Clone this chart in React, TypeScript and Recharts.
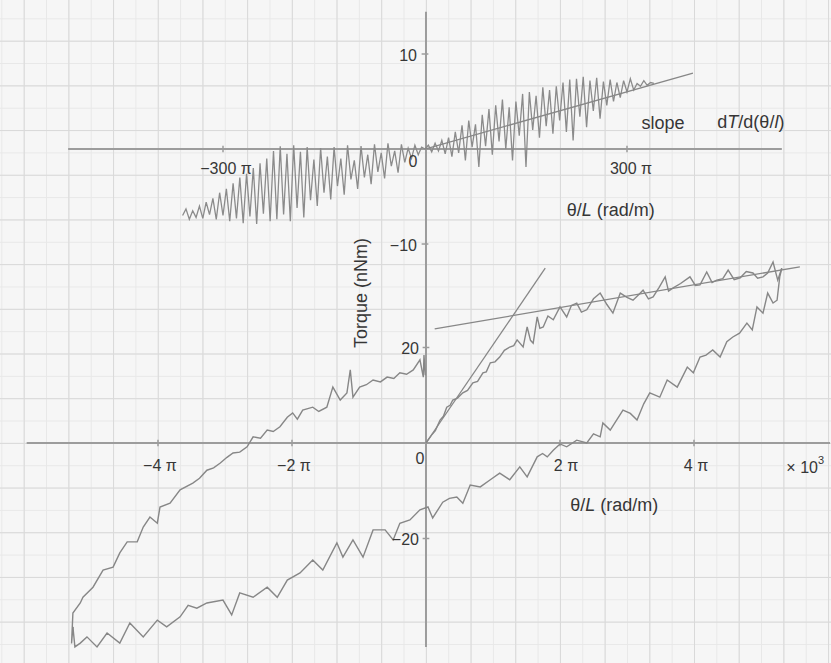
import React from "react";
import { LineChart, Line, XAxis, YAxis, ReferenceLine, ReferenceDot } from "recharts";

const W = 831;
const H = 663;
const FONT = "'Liberation Sans', Arial, sans-serif";
const CURVE = "#878787";
const AXIS = "#9c9c9c";
const INK = "#363636";
const TICK_SIZE = 16;
const TITLE_SIZE = 18;

// lower loop: θ/L in units of π×10³ rad/m, torque in nNm
const loadingBranch: [number, number][] = [
  [0.0, 0.0], [0.08, 1.6], [0.14, 2.6], [0.21, 4.8], [0.26, 5.6], [0.31, 7.5], [0.36, 7.9],
  [0.4, 9.0], [0.47, 9.4], [0.55, 10.5], [0.62, 11.0], [0.7, 12.6], [0.77, 12.9], [0.85, 14.7],
  [0.9, 14.9], [0.96, 16.8], [1.03, 17.0], [1.1, 18.0], [1.17, 19.4], [1.25, 20.1], [1.31, 20.4],
  [1.36, 21.6], [1.45, 20.1], [1.51, 24.3], [1.56, 21.5], [1.6, 20.9], [1.66, 26.4], [1.7, 24.0],
  [1.75, 24.3], [1.82, 26.6], [1.9, 25.8], [2.0, 28.5], [2.1, 26.4], [2.17, 28.8], [2.25, 29.3],
  [2.32, 27.4], [2.4, 27.9], [2.5, 30.2], [2.6, 31.4], [2.7, 29.0], [2.79, 27.2], [2.9, 31.4],
  [3.0, 30.5], [3.09, 29.9], [3.17, 31.0], [3.24, 32.0], [3.32, 30.2], [3.39, 30.6], [3.48, 32.6],
  [3.57, 34.8], [3.62, 31.8], [3.69, 32.5], [3.8, 33.4], [3.94, 34.8], [4.02, 33.0], [4.09, 33.1],
  [4.19, 35.8], [4.27, 33.6], [4.34, 34.1], [4.43, 34.4], [4.51, 36.2], [4.6, 34.2], [4.69, 34.6],
  [4.78, 35.9], [4.88, 35.6], [4.95, 34.5], [5.03, 34.8], [5.1, 35.6], [5.18, 37.9], [5.25, 34.1],
  [5.31, 36.6],
];

const unloadingBranch: [number, number][] = [
  [5.31, 36.6], [5.28, 34.8], [5.24, 29.9], [5.18, 29.3], [5.1, 31.4], [5.03, 27.2], [4.94, 28.5],
  [4.87, 23.7], [4.79, 25.1], [4.68, 23.0], [4.58, 22.2], [4.49, 21.2], [4.39, 18.0], [4.28, 19.5],
  [4.18, 18.4], [4.09, 18.0], [3.99, 14.7], [3.9, 15.9], [3.75, 11.7], [3.6, 13.2], [3.49, 9.6],
  [3.34, 10.5], [3.25, 8.2], [3.15, 4.8], [3.05, 6.2], [2.94, 6.9], [2.75, 2.7], [2.64, 4.2],
  [2.6, 1.3], [2.5, 1.9], [2.4, 0.0], [2.25, 0.6], [2.1, -0.8], [2.0, -0.2], [1.9, -1.5],
  [1.81, -2.9], [1.74, -2.2], [1.66, -2.9], [1.51, -7.1], [1.4, -5.0], [1.25, -7.7], [1.1, -6.3],
  [0.96, -7.7], [0.81, -9.2], [0.66, -8.8], [0.55, -12.6], [0.46, -11.3], [0.35, -11.6],
  [0.25, -12.4], [0.1, -15.7], [0.03, -13.4], [-0.09, -14.0], [-0.24, -16.1], [-0.39, -16.8],
  [-0.49, -20.3], [-0.61, -18.2], [-0.79, -18.2], [-0.94, -23.9], [-1.09, -20.3], [-1.24, -23.9],
  [-1.33, -20.9], [-1.54, -26.6], [-1.69, -24.5], [-1.88, -27.2], [-2.07, -28.7], [-2.22, -32.3],
  [-2.37, -30.2], [-2.58, -32.3], [-2.78, -31.4], [-2.9, -36.0], [-3.03, -32.9], [-3.27, -33.5],
  [-3.42, -34.6], [-3.55, -34.0], [-3.67, -36.4], [-3.87, -38.5], [-4.01, -37.1], [-4.22, -40.6],
  [-4.42, -37.7], [-4.57, -41.9], [-4.76, -39.8], [-4.91, -42.7], [-5.06, -40.6], [-5.16, -41.9],
  [-5.24, -42.7], [-5.27, -38.5],
];

const reloadingBranch: [number, number][] = [
  [-5.27, -38.5], [-5.29, -42.0], [-5.27, -35.6], [-5.16, -33.5], [-5.12, -32.3], [-4.97, -30.2],
  [-4.82, -26.6], [-4.67, -26.0], [-4.57, -23.0], [-4.46, -20.7], [-4.31, -20.7], [-4.22, -17.6],
  [-4.12, -15.5], [-4.01, -16.8], [-3.97, -13.4], [-3.82, -12.6], [-3.67, -9.8], [-3.48, -8.4],
  [-3.38, -7.4], [-3.27, -5.7], [-3.17, -5.2], [-3.07, -4.2], [-2.97, -3.0], [-2.88, -2.1],
  [-2.78, -1.9], [-2.67, -0.8], [-2.58, 1.3], [-2.47, 1.0], [-2.37, 2.7], [-2.28, 2.4],
  [-2.18, 3.4], [-2.07, 5.4], [-1.99, 6.3], [-1.92, 5.0], [-1.84, 6.9], [-1.69, 7.5], [-1.6, 6.6],
  [-1.48, 7.5], [-1.39, 11.7], [-1.28, 9.0], [-1.18, 10.5], [-1.13, 15.3], [-1.09, 9.6],
  [-0.99, 11.7], [-0.89, 12.2], [-0.79, 13.2], [-0.68, 12.8], [-0.58, 13.8], [-0.48, 13.5],
  [-0.39, 14.7], [-0.29, 14.4], [-0.19, 15.3], [-0.09, 17.4], [-0.04, 13.8], [-0.03, 18.4],
  [-0.01, 14.2],
];

const initialSlope: [number, number][] = [[0, 0], [1.78, 36.6]];
const saturationSlope: [number, number][] = [[0.13, 23.9], [5.58, 36.9]];
const lowerXTicks = [-4, -2, 2, 4];
const lowerYTicks = [20, -20];

// upper sweep: θ/L in units of π rad/m, torque in nNm
const smallSweep: [number, number][] = [
  [-360, -7.0], [-355, -6.3], [-350, -7.4], [-345, -6.5], [-340, -7.2], [-335, -6.0], [-330, -7.3],
  [-325, -5.6], [-320, -6.9], [-315, -5.2], [-310, -7.4], [-305, -4.6], [-300, -7.0], [-295, -4.2],
  [-290, -7.6], [-285, -3.6], [-280, -7.3], [-275, -3.0], [-270, -7.8], [-265, -2.6], [-260, -7.1],
  [-255, -2.0], [-250, -7.9], [-245, -1.5], [-240, -6.8], [-235, -1.0], [-230, -7.6], [-225, -0.2],
  [-220, -7.4], [-215, 0.3], [-210, -6.9], [-205, -0.5], [-200, -7.6], [-195, 0.4], [-190, -6.2],
  [-185, -0.3], [-180, -7.2], [-175, 0.2], [-170, -5.4], [-165, -1.1], [-160, -6.0], [-155, 0.1],
  [-150, -4.6], [-145, -0.8], [-140, -5.3], [-135, 0.2], [-130, -3.9], [-125, -1.0], [-120, -4.8],
  [-115, 0.4], [-110, -3.2], [-105, -1.2], [-100, -4.2], [-95, 0.3], [-90, -3.0], [-85, -0.6],
  [-80, -3.7], [-75, 0.5], [-70, -2.4], [-65, -0.4], [-60, -3.1], [-55, 0.6], [-50, -1.8],
  [-45, -0.2], [-40, -2.5], [-35, 0.5], [-30, -1.4], [-25, 0.1], [-20, -1.0], [-15, 0.4],
  [-10, -0.6], [-5, 0.2], [0, 0.0], [5, 0.4], [10, -0.3], [15, 0.6], [20, -0.2], [25, 0.9],
  [30, -0.5], [35, 1.2], [40, -0.8], [45, 1.8], [50, -0.4], [55, 2.5], [60, -1.2], [65, 3.0],
  [70, 0.2], [75, 2.6], [80, -1.9], [85, 3.6], [90, 0.3], [95, 4.2], [100, -0.6], [105, 4.6],
  [110, 0.8], [115, 5.2], [120, 0.0], [125, 4.4], [130, -1.2], [135, 5.0], [140, 1.4], [145, 5.8],
  [150, -1.9], [155, 6.0], [160, 2.0], [165, 5.6], [170, 1.2], [175, 6.5], [180, 2.4], [185, 6.2],
  [190, 1.6], [195, 6.6], [200, 3.0], [205, 7.0], [210, 1.8], [215, 7.3], [220, 0.9], [225, 7.4],
  [230, 3.4], [235, 7.6], [240, 2.3], [245, 7.2], [250, 4.0], [255, 7.5], [260, 3.2], [265, 7.1],
  [270, 4.6], [275, 7.3], [280, 5.0], [285, 7.0], [290, 5.4], [295, 7.2], [300, 6.0], [305, 7.4],
  [310, 6.2], [315, 6.9], [320, 6.6], [325, 7.2], [330, 6.7], [335, 7.0], [340, 6.9],
];
const smallSweepFit: [number, number][] = [[0, 0], [398, 8.0]];
const upperXTicks = [-300, 300];
const upperYTicks = [10, -10];

const pts = (a: [number, number][]) => a.map(([x, y]) => ({ x, y }));
const piLabel = (v: number) => `${v < 0 ? "−" : ""}${Math.abs(v)} π`;
const numLabel = (v: number) => `${v < 0 ? "−" : ""}${Math.abs(v)}`;

function textAt(
  content: React.ReactNode,
  dx: number,
  dy: number,
  size: number,
  anchor: "start" | "middle" | "end" = "middle",
  rotate = false
) {
  return (p: any) => {
    const x = p.cx + dx;
    const y = p.cy + dy;
    return (
      <text
        x={x}
        y={y}
        textAnchor={anchor}
        dominantBaseline="central"
        fontSize={size}
        fill={INK}
        fontFamily={FONT}
        transform={rotate ? `rotate(-90 ${x} ${y})` : undefined}
      >
        {content}
      </text>
    );
  };
}

const thetaL = (
  <>
    θ/<tspan fontStyle="italic">L</tspan> (rad/m)
  </>
);

const curveProps = {
  dataKey: "y",
  dot: false,
  activeDot: false,
  isAnimationActive: false,
  legendType: "none" as const,
};

function UpperPlot() {
  return (
    <LineChart width={W} height={H} margin={{ top: 0, right: 0, bottom: 0, left: 0 }}>
      <XAxis type="number" dataKey="x" domain={[-631.2, 603]} hide allowDataOverflow />
      <YAxis type="number" domain={[-54.1, 15.684]} hide allowDataOverflow />
      <ReferenceLine segment={[{ x: -530, y: 0 }, { x: 530, y: 0 }]} stroke={AXIS} strokeWidth={2} />
      {upperXTicks.map((t) => (
        <ReferenceLine key={`ux${t}`} segment={[{ x: t, y: -0.35 }, { x: t, y: 0.35 }]} stroke={AXIS} strokeWidth={1.5} />
      ))}
      {upperYTicks.map((t) => (
        <ReferenceLine key={`uy${t}`} segment={[{ x: -5, y: t }, { x: 5, y: t }]} stroke={AXIS} strokeWidth={1.5} />
      ))}
      <Line {...curveProps} data={pts(smallSweep)} stroke="#8b8b8b" strokeWidth={1.3} />
      <Line {...curveProps} data={pts(smallSweepFit)} stroke={CURVE} strokeWidth={1.3} />
      {upperXTicks.map((t) => (
        <ReferenceDot key={`uxl${t}`} x={t} y={0} r={0} shape={textAt(piLabel(t), t < 0 ? 3 : 4, 19, TICK_SIZE)} />
      ))}
      {upperYTicks.map((t) => (
        <ReferenceDot key={`uyl${t}`} x={0} y={t} r={0} shape={textAt(numLabel(t), -8, 1, TICK_SIZE, "end")} />
      ))}
      <ReferenceDot x={0} y={0} r={0} shape={textAt("0", -12, 12, TICK_SIZE)} />
      <ReferenceDot x={276} y={-6.4} r={0} shape={textAt(thetaL, 0, 0, TITLE_SIZE)} />
      <ReferenceDot x={353.5} y={2.74} r={0} shape={textAt("slope", 0, 0, TITLE_SIZE)} />
      <ReferenceDot
        x={484}
        y={2.84}
        r={0}
        shape={textAt(
          <>
            d<tspan fontStyle="italic">T</tspan>/d(θ/<tspan fontStyle="italic">l</tspan>)
          </>,
          0,
          0,
          TITLE_SIZE
        )}
      />
    </LineChart>
  );
}

function LowerPlot() {
  return (
    <LineChart width={W} height={H} margin={{ top: 0, right: 0, bottom: 0, left: 0 }}>
      <XAxis type="number" dataKey="x" domain={[-6.358, 6.045]} hide allowDataOverflow />
      <YAxis type="number" domain={[-46.07, 92.77]} hide allowDataOverflow />
      <ReferenceLine segment={[{ x: -5.96, y: 0 }, { x: 6.03, y: 0 }]} stroke={AXIS} strokeWidth={2} />
      <ReferenceLine segment={[{ x: 0, y: -42.7 }, { x: 0, y: 90.3 }]} stroke={AXIS} strokeWidth={2} />
      {lowerXTicks.map((t) => (
        <ReferenceLine key={`lx${t}`} segment={[{ x: t, y: -0.7 }, { x: t, y: 0.7 }]} stroke={AXIS} strokeWidth={1.5} />
      ))}
      {lowerYTicks.map((t) => (
        <ReferenceLine key={`ly${t}`} segment={[{ x: -0.05, y: t }, { x: 0.05, y: t }]} stroke={AXIS} strokeWidth={1.5} />
      ))}
      <Line {...curveProps} data={pts(loadingBranch)} stroke={CURVE} strokeWidth={1.4} />
      <Line {...curveProps} data={pts(unloadingBranch)} stroke={CURVE} strokeWidth={1.4} />
      <Line {...curveProps} data={pts(reloadingBranch)} stroke={CURVE} strokeWidth={1.4} />
      <Line {...curveProps} data={pts(initialSlope)} stroke={CURVE} strokeWidth={1.3} />
      <Line {...curveProps} data={pts(saturationSlope)} stroke={CURVE} strokeWidth={1.3} />
      {lowerXTicks.map((t) => (
        <ReferenceDot key={`lxl${t}`} x={t} y={0} r={0} shape={textAt(piLabel(t), t === 2 ? 6 : 2, 22, TICK_SIZE)} />
      ))}
      {lowerYTicks.map((t) => (
        <ReferenceDot key={`lyl${t}`} x={0} y={t} r={0} shape={textAt(numLabel(t), -7, 1, TICK_SIZE, "end")} />
      ))}
      <ReferenceDot x={0} y={0} r={0} shape={textAt("0", -6, 15, TICK_SIZE)} />
      <ReferenceDot
        x={5.66}
        y={0}
        r={0}
        shape={textAt(
          <>
            × 10<tspan dy={-7} fontSize={11}>3</tspan>
          </>,
          0,
          24,
          TICK_SIZE
        )}
      />
      <ReferenceDot x={2.81} y={-13.0} r={0} shape={textAt(thetaL, 0, 0, TITLE_SIZE)} />
      <ReferenceDot x={-0.97} y={31.4} r={0} shape={textAt("Torque (nNm)", 0, 0, TITLE_SIZE, "middle", true)} />
    </LineChart>
  );
}

export default function App() {
  const layer: React.CSSProperties = { position: "absolute", left: 0, top: 0 };
  return (
    <div
      style={{
        position: "absolute",
        left: 0,
        top: 0,
        width: W,
        height: H,
        overflow: "hidden",
        backgroundColor: "#f6f6f6",
        backgroundImage:
          "linear-gradient(#d9d9d9 1px, transparent 1px), linear-gradient(90deg, #d9d9d9 1px, transparent 1px)," +
          "linear-gradient(#e8e8e8 1px, transparent 1px), linear-gradient(90deg, #e8e8e8 1px, transparent 1px)",
        backgroundSize: "44.7px 44.7px, 44.7px 44.7px, 22.35px 22.35px, 22.35px 22.35px",
        backgroundPosition: "23.7px 40.7px, 23.7px 40.7px, 23.7px 40.7px, 23.7px 40.7px",
      }}
    >
      <div style={layer}>
        <LowerPlot />
      </div>
      <div style={layer}>
        <UpperPlot />
      </div>
    </div>
  );
}
